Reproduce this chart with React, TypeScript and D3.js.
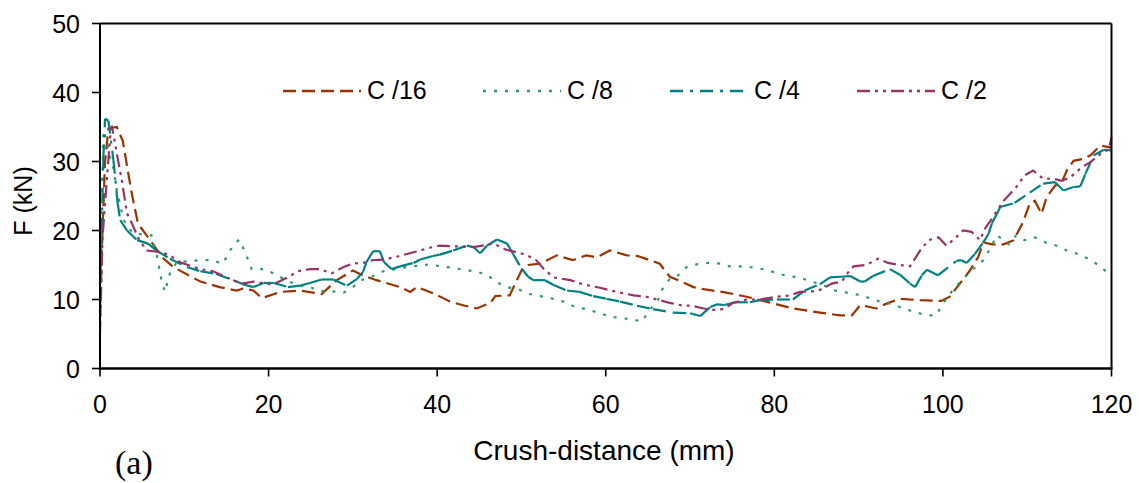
import React from 'react';
import * as d3 from 'd3';

type P = [number, number];

const xTicks = [0, 20, 40, 60, 80, 100, 120];
const yTicks = [0, 10, 20, 30, 40, 50];
const seriesNames = ['C /16', 'C /8', 'C /4', 'C /2'];

const c16: P[] = [[0,7],[0.3,20],[0.6,30],[1,34.8],[2,35],[2.7,33],[3.7,25.8],[4.5,21],[5.7,19],[7.4,16.1],[8.7,14.7],[11.9,12.6],[14.2,11.8],[16.2,11.3],[17,11.6],[18.2,11.3],[19.2,10.2],[21.4,11.1],[23.7,11.3],[26.3,10.8],[28.1,12.8],[30,14.2],[31.2,13.5],[32.8,12.8],[35.6,11.8],[36.8,11.1],[37.6,11.8],[39.5,10.9],[40.7,10.2],[41.5,9.7],[43.3,9.1],[44.7,8.7],[46.3,9.5],[46.9,10.5],[48.6,10.6],[50,14.2],[50.8,15],[52.2,15.2],[54.2,16.4],[56.1,15.7],[57.7,16.4],[58.9,16.1],[60.5,17.1],[62.5,16.4],[63.8,16.3],[66.4,15.2],[67.6,13.3],[68.8,12.7],[70.4,11.8],[71.6,11.5],[74.3,11],[76.7,10.4],[80.3,9.3],[82.2,8.7],[85.4,8.1],[87.8,7.7],[89.2,7.7],[90.2,9.2],[92.1,8.7],[93.3,9.4],[94.9,10.1],[97.3,9.9],[99.8,9.8],[100.8,10.4],[103.2,14.2],[104.2,16.2],[104.8,18.3],[105.8,18],[107.2,18],[108.4,18.6],[109.5,21.2],[110.3,23.9],[110.9,24.3],[111.7,22.4],[112.3,24.8],[113.3,26.5],[114.1,27],[114.7,28.7],[115.5,30.1],[116.7,30.4],[117.5,30.9],[118.7,32.3],[120,32]];

const c8: P[] = [[0,8],[0.2,22],[0.4,34.5],[0.8,33],[1.2,30.6],[1.6,29],[2,25.8],[2.8,21.5],[3.9,19.6],[6.1,19.3],[6.7,16.7],[7.3,12.8],[7.7,11.1],[8.3,13.8],[9.1,15.4],[11.9,15.7],[13.2,15.7],[14.6,15.2],[15.4,17.1],[16.5,18.7],[17.2,16.9],[18,14.4],[19.6,14.4],[21,13.5],[22.1,12.8],[23.3,12.1],[24.9,11.8],[26.1,11.2],[27.5,11.2],[28.9,11],[30,11.8],[31,12.8],[32.4,13.4],[33.6,14.1],[36.4,14.7],[39.1,15.1],[40.4,14.8],[41.9,14.6],[43.1,14.3],[44.5,14.1],[45.9,13.6],[47.1,12.5],[48.2,11.8],[49.6,11.5],[51,10.8],[52.2,10.5],[53.8,10.1],[55,9.7],[56.4,8.9],[57.7,8.6],[59.1,8.1],[60.5,7.5],[61.9,7.3],[63.2,7.1],[64.3,6.8],[65.2,8.5],[66.2,9.9],[66.6,11.3],[67.6,13],[68.6,13.5],[69.6,14.7],[70.8,15.1],[72.2,15.3],[73.5,15.2],[74.7,14.8],[76.3,14.8],[77.7,14.6],[79.1,14.3],[80.3,13.8],[81.6,13.4],[83,13.2],[84.4,12.6],[85.8,12.1],[87.2,11.3],[88.6,11],[89.9,10.7],[91.3,10.2],[92.5,9.7],[94.1,9.3],[95.3,8.7],[96.9,8.1],[98.1,7.7],[99.2,7.7],[100,9.4],[101,11.1],[102,12.5],[103.4,14.2],[104.8,15.7],[105.6,17.4],[106.4,19.3],[107.2,18.6],[107.8,18],[108.7,19.3],[109.7,18.6],[110.9,19],[112.3,18.2],[113.5,17.8],[114.7,17.1],[116,16.6],[117.4,15.8],[118.8,14.7],[120,13.3]];

const c4: P[] = [[0,8],[0.2,20],[0.4,30.6],[0.6,36.2],[1,35.9],[1.6,30.1],[2.1,23.9],[2.4,21.5],[3.2,20],[4.4,18.6],[5.7,18.1],[6.7,17.1],[8.3,15.9],[10.3,14.7],[11.9,14.1],[13.8,13.7],[15.8,12.8],[17,12.2],[18.2,11.8],[19.4,12.4],[20.6,12.4],[22.3,11.8],[23.7,12],[24.9,12.4],[26.3,12.9],[27.7,12.9],[29.3,12],[30.5,13],[31.2,14],[31.6,15.4],[32.4,17],[33.2,17],[33.7,15.4],[34.6,14.4],[35.6,14.8],[37.2,15.3],[38,15.8],[39.5,16.3],[40.3,16.5],[41.9,17.1],[43.5,17.8],[44.3,17.6],[45.1,16.7],[45.9,17.8],[47.1,18.7],[48.3,18.1],[49,16.6],[50,14.5],[50.8,13.3],[51.4,12.8],[52.8,12.8],[53.8,12.1],[55.4,11.3],[56.9,11.1],[58.5,10.5],[60.1,10.1],[61.7,9.7],[63.7,9.1],[65.6,8.6],[68,8.1],[70,8],[71.2,7.6],[72.4,8.9],[73.2,9.3],[74.1,9.2],[75.3,9.6],[77.1,9.6],[78.3,9.9],[80.3,10],[82.2,10],[83.6,11.3],[85.4,12.2],[86.6,13.2],[87.8,13.3],[89,13.4],[90.2,12.6],[90.7,12.6],[91.7,13.4],[93.7,14.4],[94.9,13.6],[96.1,12.3],[96.7,11.8],[97.5,13.5],[98.1,14.3],[99.4,13.5],[101.6,15.6],[102.2,15.7],[102.8,15.3],[103.8,16.6],[104.8,18.3],[105.4,19.5],[105.8,21],[106.4,22.4],[106.8,23.4],[108.5,24],[110.3,25.5],[111.9,26.8],[113.3,27],[114.3,25.8],[115.5,26.3],[116.3,26.4],[116.9,28.2],[117.9,30.9],[119.1,31.7],[120,31.6]];

const c2: P[] = [[0,5],[0.3,19],[0.8,27.2],[1.2,33.5],[1.4,35.2],[2,31.1],[2.6,27.2],[3.2,22.5],[3.8,21],[4.5,19],[5.5,17.1],[7.1,16.9],[8.3,16.4],[9.5,15.4],[11.9,14.4],[13.4,14.1],[15.4,13],[16.8,12.3],[18.2,12.6],[19.6,12.3],[20.6,12.2],[22.1,13.1],[23.5,14.1],[24.9,14.4],[26.1,14.4],[27.5,13.8],[28.9,14.7],[30,15.2],[31.2,15.3],[32.4,15.7],[33.8,15.8],[35.2,16.2],[36.4,16.6],[38,17.1],[39.1,17.5],[40.3,17.8],[42.3,17.7],[44.3,17.6],[46.7,18.1],[48.2,17.2],[50.2,16.6],[51.6,15.9],[52.6,14.5],[53.8,13.2],[55.8,12.8],[57.3,12.2],[59.3,11.7],[61.3,11.1],[63.3,10.6],[64.8,10.4],[66.4,9.9],[67.6,9.5],[69.2,9.1],[70.2,9.1],[71.6,8.7],[72.8,8.5],[74,8.6],[75.1,9.5],[76.7,10],[78.3,10],[80.3,10.4],[81.9,10.6],[83,11.1],[85,11.2],[85.8,11.6],[86.8,12.3],[88,12.6],[88.8,14],[89.4,14.8],[90.9,15],[92.3,15.9],[93.5,15.3],[94.9,15],[96.1,14.8],[97.3,17.1],[98.3,18.6],[99.5,19],[100.4,17.8],[101.4,18.8],[102.4,20],[103.4,19.8],[104.4,18.6],[105,20.3],[105.8,21.7],[107.2,24.3],[108.7,26.3],[109.7,28],[110.7,28.7],[111.9,27.5],[113.1,27.5],[114.1,27.2],[115.1,27.7],[116.5,29.2],[117.5,29.9],[118.7,31.1],[119.7,31.8],[120,33.5]];

const seriesData = [c16, c8, c4, c2];

const styles = [
  { color: '#993300', dash: '13,6', perSegment: false },
  { color: '#339966', dash: '3,8', perSegment: false },
  { color: '#008080', dash: '13,7,3,7', perSegment: true },
  { color: '#993366', dash: '13,5,3,5,3,5', perSegment: false },
];
const legendX = [283, 483, 670, 857];

export default function App() {
  const W = 1139, H = 483;
  const left = 100, right = 1111.5, top = 23.5, bottom = 368.5;
  const x = d3.scaleLinear().domain([0, 120]).range([left, right]);
  const y = d3.scaleLinear().domain([0, 50]).range([bottom, top]);
  const line = d3.line<P>().x(d => x(d[0])).y(d => y(d[1]));
  const font = 'Liberation Sans, Arial, Helvetica, sans-serif';

  return (
    <svg width={W} height={H} style={{ position: 'absolute', left: 0, top: 0, display: 'block', background: '#fff' }}>
      <rect x={0} y={0} width={W} height={H} fill="#fff" />
      {/* series */}
      {seriesData.map((data, si) => {
        const st = styles[si];
        if (st.perSegment) {
          return (
            <g key={si}>
              {data.slice(1).map((d, i) => (
                <path key={i} d={line([data[i], d]) || ''} fill="none" stroke={st.color}
                  strokeWidth={2.2} strokeDasharray={st.dash} />
              ))}
            </g>
          );
        }
        return <path key={si} d={line(data) || ''} fill="none" stroke={st.color} strokeWidth={2.2} strokeDasharray={st.dash} />;
      })}
      {/* frame */}
      <line x1={left} x2={right} y1={top} y2={top} stroke="#000" strokeWidth={1.8} />
      <line x1={right} x2={right} y1={top} y2={bottom} stroke="#000" strokeWidth={2} />
      <line x1={left} x2={left} y1={top} y2={bottom} stroke="#000" strokeWidth={2} />
      <line x1={left - 1} x2={right + 1} y1={bottom} y2={bottom} stroke="#000" strokeWidth={2.6} />
      {/* y ticks */}
      {yTicks.map(t => (
        <g key={'y' + t}>
          <line x1={left - 8} x2={left} y1={y(t)} y2={y(t)} stroke="#000" strokeWidth={1.6} />
          <text x={80} y={y(t) + 9} textAnchor="end" fontFamily={font} fontSize={25} fill="#000">{t}</text>
        </g>
      ))}
      {/* x ticks */}
      {xTicks.map(t => (
        <g key={'x' + t}>
          <line x1={x(t)} x2={x(t)} y1={bottom} y2={bottom + 8} stroke="#000" strokeWidth={1.6} />
          <text x={x(t)} y={413} textAnchor="middle" fontFamily={font} fontSize={25} fill="#000">{t}</text>
        </g>
      ))}
      {/* axis titles */}
      <text x={604} y={460} textAnchor="middle" fontFamily={font} fontSize={28} fill="#000">Crush-distance (mm)</text>
      <text transform="translate(32,201) rotate(-90)" textAnchor="middle" fontFamily={font} fontSize={25} fill="#000">F (kN)</text>
      <text x={115} y={474} fontFamily="Liberation Serif, Times New Roman, serif" fontSize={34} fill="#000">(a)</text>
      {/* legend */}
      {seriesNames.map((name, i) => (
        <g key={name}>
          <line x1={legendX[i]} x2={legendX[i] + 78} y1={91} y2={91} stroke={styles[i].color} strokeWidth={2.6} strokeDasharray={styles[i].dash} />
          <text x={legendX[i] + 84} y={99} fontFamily={font} fontSize={25} fill="#000">{name}</text>
        </g>
      ))}
    </svg>
  );
}
